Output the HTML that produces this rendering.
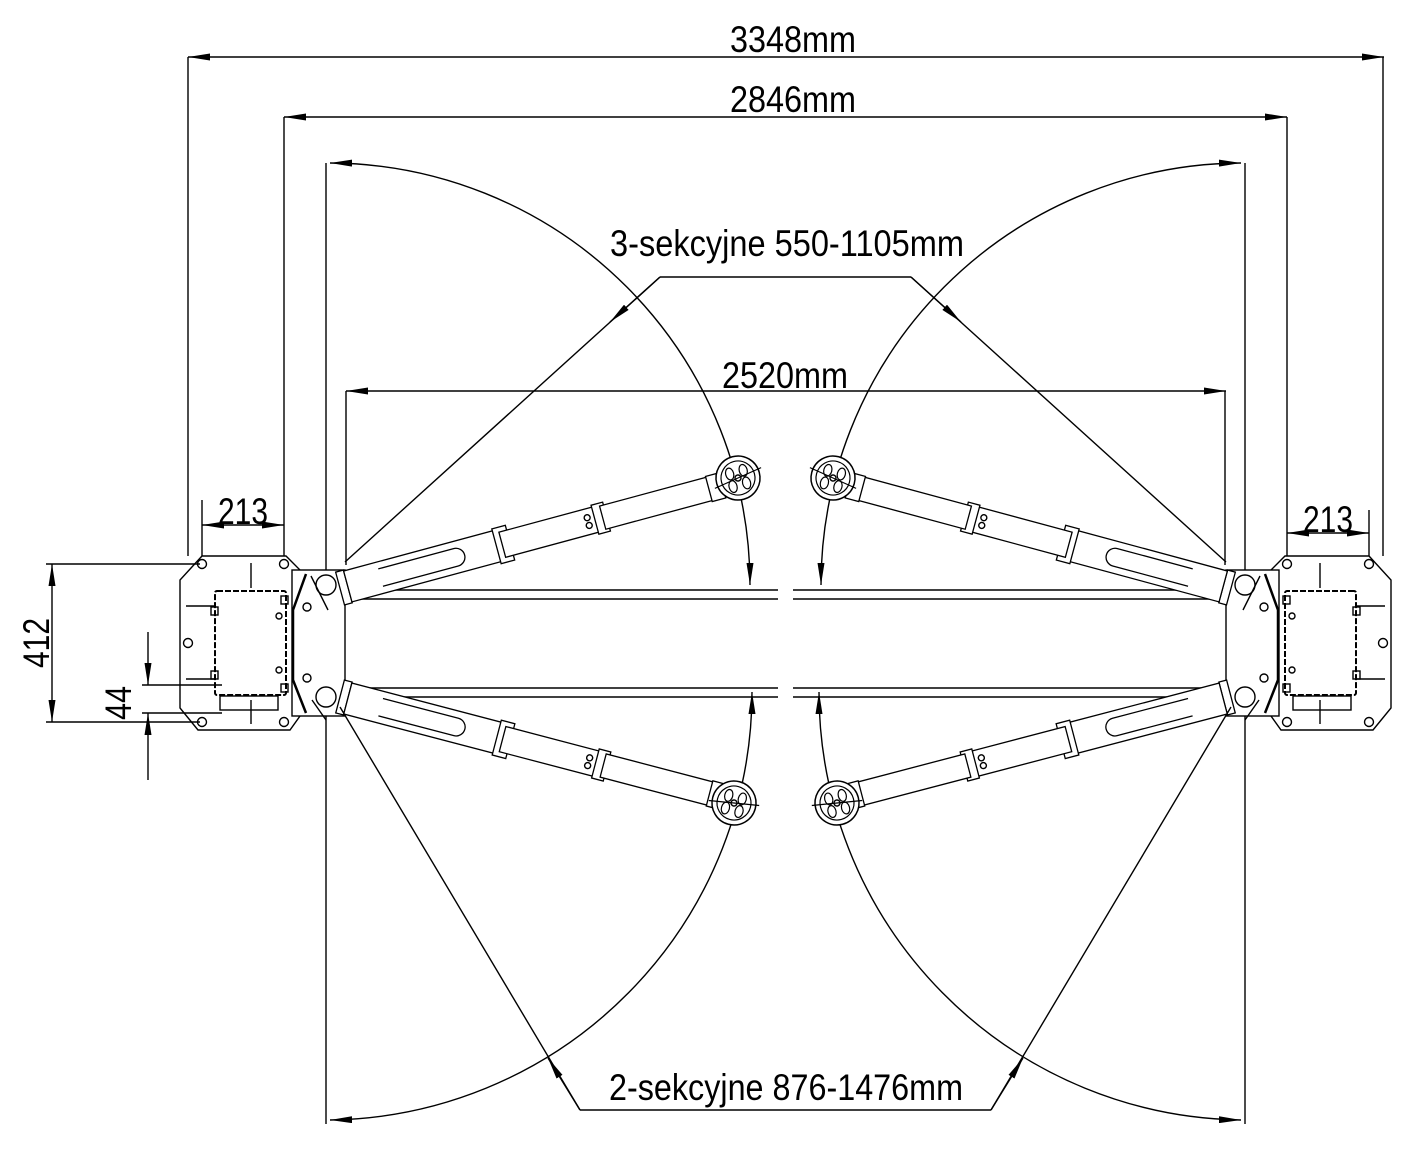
<!DOCTYPE html>
<html><head><meta charset="utf-8"><style>
html,body{margin:0;padding:0;background:#fff}
svg{display:block}
text{font-family:"Liberation Sans Narrow","Liberation Sans",sans-serif;fill:#000}
</style></head><body>
<svg width="1418" height="1163" viewBox="0 0 1418 1163" xmlns="http://www.w3.org/2000/svg">
<defs>
<marker id="a" viewBox="0 0 22 7" refX="22" refY="3.5" markerWidth="22" markerHeight="7" orient="auto-start-reverse" markerUnits="userSpaceOnUse"><path d="M0,0 L22,3.5 L0,7 z" fill="#000"/></marker>
<g id="armA">
  <rect x="-2" y="-17" width="8" height="34" fill="#fff" stroke="#000" stroke-width="1.3"/>
  <rect x="6" y="-16" width="160" height="32" fill="#fff" stroke="#000" stroke-width="1.3"/>
  <path d="M40,-9 H118 A9,9 0 0 1 118,9 H40" fill="none" stroke="#000" stroke-width="1.3"/>
  <rect x="160" y="-18" width="14" height="36" fill="#fff" stroke="#000" stroke-width="1.3"/>
  <rect x="166" y="-13" width="100" height="26" fill="#fff" stroke="#000" stroke-width="1.3"/>
  <circle cx="255" cy="-4" r="3"/><circle cx="255" cy="4" r="3"/>
  <rect x="262" y="-15" width="12" height="30" fill="#fff" stroke="#000" stroke-width="1.3"/>
  <rect x="270" y="-12" width="128" height="24" fill="#fff" stroke="#000" stroke-width="1.3"/>
  <rect x="380" y="-13" width="14" height="26" fill="#fff" stroke="#000" stroke-width="1.3"/>
</g>
<g id="pad">
  <circle r="22" fill="#fff" stroke="#000" stroke-width="1.5"/>
  <circle r="17" fill="none" stroke="#000" stroke-width="1.2"/>
  <ellipse cx="-7" cy="-6" rx="4" ry="6" fill="none" stroke="#000" stroke-width="1.2"/>
  <ellipse cx="7" cy="-6" rx="4" ry="6" fill="none" stroke="#000" stroke-width="1.2"/>
  <ellipse cx="-7" cy="7" rx="4" ry="6" fill="none" stroke="#000" stroke-width="1.2"/>
  <ellipse cx="7" cy="7" rx="4" ry="6" fill="none" stroke="#000" stroke-width="1.2"/>
  <circle cx="0" cy="0" r="3" fill="none" stroke="#000"/>
  <line x1="-25" y1="4" x2="25" y2="-4" stroke="#000" stroke-width="1.2"/>
</g>
<g id="half" fill="none" stroke="#000" stroke-width="1.4">
  <line x1="188" y1="57" x2="188" y2="556"/>
  <line x1="284" y1="117" x2="284" y2="556"/>
  <line x1="326" y1="163" x2="326" y2="1124"/>
  <line x1="346" y1="391" x2="346" y2="565"/>
  <path d="M330,163 A422,422 0 0 1 750,585" marker-start="url(#a)" marker-end="url(#a)"/>
  <path d="M752,692 A428,428 0 0 1 330,1120" marker-start="url(#a)" marker-end="url(#a)"/>
  <line x1="346" y1="590" x2="778" y2="590"/>
  <line x1="346" y1="599" x2="778" y2="599"/>
  <line x1="346" y1="688" x2="778" y2="688"/>
  <line x1="346" y1="697" x2="778" y2="697"/>
  <path d="M202,556 H286 L300,570 V716 L290,730 H198 L180,708 V580 Z" fill="#fff"/>
  <circle cx="202" cy="564" r="4.5"/><circle cx="284" cy="564" r="4.5"/>
  <circle cx="188" cy="643" r="4.5"/><circle cx="202" cy="722" r="4.5"/><circle cx="284" cy="722" r="4.5"/>
  <line x1="251" y1="563" x2="251" y2="588"/><line x1="251" y1="700" x2="251" y2="724"/>
  <line x1="186" y1="606" x2="214" y2="606"/><line x1="186" y1="679" x2="214" y2="679"/>
  <rect x="215" y="591" width="71" height="104" rx="2" stroke-width="2" stroke-dasharray="6 2"/>
  <rect x="220" y="696" width="58" height="14"/>
  <rect x="211" y="607" width="7" height="8"/><rect x="211" y="671" width="7" height="8"/>
  <rect x="281" y="596" width="7" height="8"/><rect x="281" y="684" width="7" height="8"/>
  <circle cx="279" cy="616" r="3"/><circle cx="279" cy="670" r="3"/>
  <rect x="292" y="570" width="53" height="146" fill="#fff"/>
  <path d="M306,574 L293,610 V680 L306,713" stroke-width="2.5"/>
  <circle cx="326" cy="585" r="10"/><circle cx="326" cy="697" r="10"/>
  <circle cx="307" cy="607" r="4"/><circle cx="307" cy="678" r="4"/>
  <line x1="311" y1="576" x2="328" y2="610"/><line x1="312" y1="700" x2="326" y2="720"/>
  <g transform="translate(342,588) rotate(-15.1)"><use href="#armA"/></g>
  <g transform="translate(738,478) rotate(-15.1)"><use href="#pad"/></g>
  <g transform="translate(342,697) rotate(14.7)"><use href="#armA"/></g>
  <g transform="translate(734,803) rotate(14.7)"><use href="#pad"/></g>
  <line x1="660" y1="277" x2="345" y2="562"/>
  <line x1="660" y1="277" x2="610" y2="322" marker-end="url(#a)"/>
  <line x1="580" y1="1110" x2="340" y2="707"/>
  <line x1="580" y1="1110" x2="548" y2="1058" marker-end="url(#a)"/>
</g>
</defs>
<use href="#half"/>
<use href="#half" transform="translate(1571,0) scale(-1,1)"/>
<g fill="none" stroke="#000" stroke-width="1.4">
  <line x1="188" y1="57" x2="1384" y2="57" marker-start="url(#a)" marker-end="url(#a)"/>
  <line x1="284" y1="117" x2="1287" y2="117" marker-start="url(#a)" marker-end="url(#a)"/>
  <line x1="346" y1="391" x2="1226" y2="391" marker-start="url(#a)" marker-end="url(#a)"/>
  <line x1="660" y1="277" x2="911" y2="277"/>
  <line x1="580" y1="1110" x2="991" y2="1110"/>
  <line x1="202" y1="525" x2="284" y2="525" marker-start="url(#a)" marker-end="url(#a)"/>
  <line x1="202" y1="500" x2="202" y2="556"/>
  <line x1="1287" y1="533" x2="1369" y2="533" marker-start="url(#a)" marker-end="url(#a)"/>
  <line x1="1369" y1="510" x2="1369" y2="556"/>
  <line x1="52" y1="564" x2="52" y2="722" marker-start="url(#a)" marker-end="url(#a)"/>
  <line x1="46" y1="564" x2="200" y2="564"/>
  <line x1="46" y1="722" x2="200" y2="722"/>
  <line x1="148" y1="632" x2="148" y2="685" marker-end="url(#a)"/>
  <line x1="148" y1="780" x2="148" y2="713" marker-end="url(#a)"/>
  <line x1="142" y1="685" x2="222" y2="685"/>
  <line x1="142" y1="713" x2="222" y2="713"/>
</g>
<g font-size="37" text-anchor="middle">
  <text x="793" y="52" textLength="126" lengthAdjust="spacingAndGlyphs">3348mm</text>
  <text x="793" y="112" textLength="126" lengthAdjust="spacingAndGlyphs">2846mm</text>
  <text x="785" y="388" textLength="126" lengthAdjust="spacingAndGlyphs">2520mm</text>
  <text x="787" y="256" textLength="354" lengthAdjust="spacingAndGlyphs">3-sekcyjne 550-1105mm</text>
  <text x="786" y="1100" textLength="354" lengthAdjust="spacingAndGlyphs">2-sekcyjne 876-1476mm</text>
  <text x="243" y="524" textLength="50" lengthAdjust="spacingAndGlyphs">213</text>
  <text x="1328" y="532" textLength="50" lengthAdjust="spacingAndGlyphs">213</text>
  <text transform="translate(49,643) rotate(-90)" textLength="50" lengthAdjust="spacingAndGlyphs">412</text>
  <text transform="translate(131,703) rotate(-90)" textLength="34" lengthAdjust="spacingAndGlyphs">44</text>
</g>
</svg>
</body></html>
